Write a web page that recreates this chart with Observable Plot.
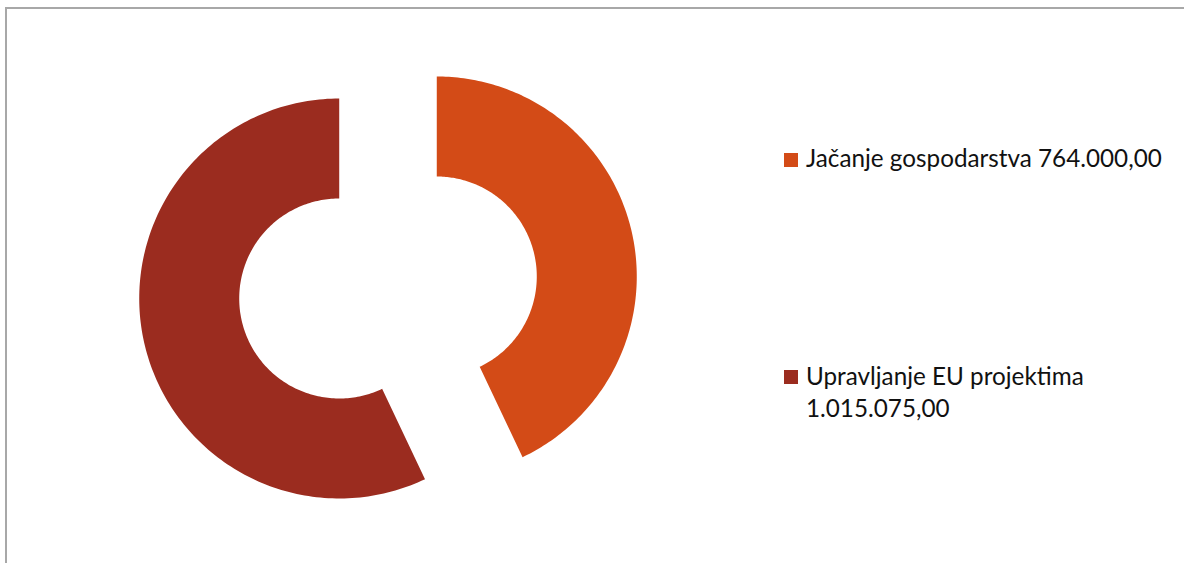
<!DOCTYPE html>
<html><head><meta charset="utf-8">
<script src="https://cdn.jsdelivr.net/npm/d3@7"></script>
<script src="https://cdn.jsdelivr.net/npm/@observablehq/plot@0.6"></script>
<style>
html,body{margin:0;padding:0;background:#fff;}
body{width:1184px;height:563px;overflow:hidden;position:relative;}
#frame{position:absolute;left:5px;top:7px;width:1200px;height:600px;border-left:2px solid #a8a8a8;border-top:2px solid #a8a8a8;box-sizing:border-box;}
#chart{position:absolute;left:0;top:0;}
#legend{position:absolute;left:0;top:0;}
</style>
</head><body>
<div id="frame"></div>
<div id="chart"></div>
<svg id="legend" width="1184" height="563"></svg>
<script>
const categories = ["Jačanje gospodarstva", "Upravljanje EU projektima"];
const values = [764000, 1015075];
const valueLabels = ["764.000,00", "1.015.075,00"];
const colors = ["#D34B17", "#9B2C1F"];

// layout
const W = 1184, H = 563;
const cx = 387.5, cy = 287, R = 200, r = 100, explode = 50;
const N = 180;

const total = d3.sum(values);
const points = [];
let acc = 0;
values.forEach((v, i) => {
  const a0 = acc / total * 2 * Math.PI;
  acc += v;
  const a1 = acc / total * 2 * Math.PI;
  const mid = (a0 + a1) / 2;
  const ox = cx + explode * Math.sin(mid), oy = cy - explode * Math.cos(mid);
  for (let k = 0; k <= N; k++) {
    const a = a0 + (a1 - a0) * k / N;
    points.push({cat: categories[i], x: ox + R * Math.sin(a), y: oy - R * Math.cos(a)});
  }
  for (let k = N; k >= 0; k--) {
    const a = a0 + (a1 - a0) * k / N;
    points.push({cat: categories[i], x: ox + r * Math.sin(a), y: oy - r * Math.cos(a)});
  }
});

const plot = Plot.plot({
  width: W, height: H,
  marginTop: 0, marginRight: 0, marginBottom: 0, marginLeft: 0,
  style: {background: "transparent"},
  x: {domain: [0, W], range: [0, W], axis: null},
  y: {domain: [0, H], range: [0, H], axis: null},
  color: {domain: categories, range: colors},
  marks: [
    Plot.line(points, {x: "x", y: "y", z: "cat", fill: "cat", stroke: "none", curve: "linear-closed"})
  ]
});
document.getElementById("chart").appendChild(plot);

// legend
const fontFamily = "Lato, 'Open Sans', sans-serif";
const fs = 24.5;
const ctx = document.createElement("canvas").getContext("2d");
ctx.font = fs + "px " + fontFamily;
const wFirst = ctx.measureText(categories[0] + " " + valueLabels[0]).width;
const k = 356 / wFirst;
const lg = d3.select("#legend");
const items = [
  {lines: [categories[0] + " " + valueLabels[0]], sq: 153, base: 167},
  {lines: [categories[1], valueLabels[1]], sq: 370, base: 385}
];
items.forEach((it, i) => {
  lg.append("rect").attr("x", 784).attr("y", it.sq).attr("width", 14).attr("height", 14).attr("fill", colors[i]);
  it.lines.forEach((t, j) => {
    lg.append("text")
      .attr("transform", `translate(806,${it.base + j * 32}) scale(${k},1)`)
      .attr("font-family", fontFamily).attr("font-size", fs).attr("fill", "#111").text(t);
  });
});
</script>
</body></html>
